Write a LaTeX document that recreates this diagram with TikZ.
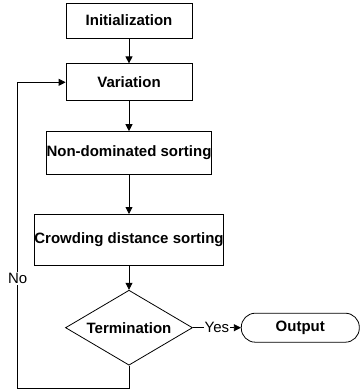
\documentclass[tikz,border=0pt]{standalone}
\usepackage{fontspec}
\setmainfont{Liberation Sans}
\usepackage{tikz}
\usetikzlibrary{arrows.meta, positioning, shapes.geometric}

\begin{document}
\begin{tikzpicture}[
    stage/.style={
      rectangle, draw, line width=0.8pt, inner sep=0pt,
      font=\fontsize{15}{17}\selectfont\bfseries, align=center
    },
    check/.style={
      diamond, draw, line width=0.8pt, inner sep=0pt, aspect=1.7,
      minimum width=127pt, minimum height=75pt,
      font=\fontsize{15}{17}\selectfont\bfseries
    },
    result/.style={
      rectangle, rounded corners=14pt, draw, line width=0.8pt,
      minimum width=118pt, minimum height=29pt,
      font=\fontsize{15}{17}\selectfont\bfseries
    },
    flow/.style={-{Triangle[length=7pt, width=7pt]}, line width=0.8pt},
    tag/.style={fill=white, inner sep=1pt, font=\fontsize{15}{17}\selectfont},
  ]
  \useasboundingbox (0,0) rectangle (360pt,-390pt);

  %% ── Main chain ──
  \node[stage, minimum width=126pt, minimum height=35pt] (init) at (129pt,-20.5pt) {Initialization};
  \node[stage, minimum width=126pt, minimum height=37pt, below=25pt of init] (var) {Variation};
  \node[stage, minimum width=164pt, minimum height=43pt, below=30pt of var] (nds) {Non-dominated sorting};
  \node[stage, minimum width=189pt, minimum height=51pt, below=39pt of nds] (cds) {Crowding distance sorting};
  \node[check, below=24pt of cds] (term) {Termination};
  \node[result, right=48pt of term] (out) {Output};

  %% ── Arrows ──
  \draw[flow] (init) -- (var);
  \draw[flow] (var) -- (nds);
  \draw[flow] (nds) -- (cds);
  \draw[flow] (cds) -- (term);
  \draw[flow] (term) -- node[tag] {Yes} (out);

  %% ── Loop back ──
  \coordinate[below=23pt of term] (turn);
  \coordinate[left=48pt of var.west] (back);
  \draw[flow] (term.south) -- (turn) -| node[tag, pos=0.68] {No} (back) -- (var.west);

\end{tikzpicture}
\end{document}
